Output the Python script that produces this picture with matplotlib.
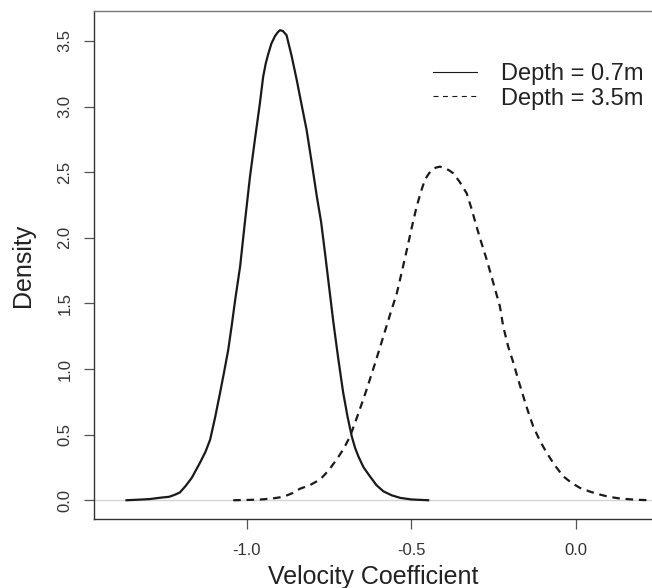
import matplotlib
matplotlib.use("Agg")
import matplotlib.pyplot as plt
from matplotlib.lines import Line2D

plt.rcParams['font.family'] = ['Liberation Sans', 'DejaVu Sans']

# density estimates, depth = 0.7m
shallow_x = [-1.365, -1.330, -1.294, -1.260, -1.236, -1.220, -1.203, -1.185, -1.167,
             -1.155, -1.142, -1.125, -1.111, -1.096, -1.081, -1.068, -1.056, -1.045,
             -1.035, -1.020, -1.005, -0.990, -0.975, -0.960, -0.950, -0.942, -0.934,
             -0.925, -0.914, -0.906, -0.899, -0.890, -0.879, -0.864, -0.848, -0.833,
             -0.818, -0.803, -0.787, -0.774, -0.762, -0.750, -0.737, -0.722, -0.707,
             -0.694, -0.681, -0.671, -0.661, -0.645, -0.626, -0.606, -0.585, -0.560,
             -0.534, -0.500, -0.449]
shallow_y = [0.000, 0.004, 0.009, 0.020, 0.026, 0.040, 0.059, 0.110, 0.170,
             0.225, 0.285, 0.370, 0.462, 0.630, 0.817, 0.985, 1.147, 1.340,
             1.527, 1.781, 2.130, 2.466, 2.750, 3.024, 3.227, 3.330, 3.405,
             3.480, 3.537, 3.565, 3.582, 3.575, 3.544, 3.390, 3.202, 3.010,
             2.821, 2.580, 2.314, 2.120, 1.880, 1.630, 1.360, 1.080, 0.820,
             0.640, 0.487, 0.400, 0.335, 0.250, 0.183, 0.115, 0.068, 0.038,
             0.018, 0.006, 0.000]

# depth = 3.5m
deep_x = [-1.041, -1.000, -0.960, -0.920, -0.889, -0.860, -0.838, -0.808, -0.777,
          -0.752, -0.727, -0.706, -0.686, -0.661, -0.636, -0.610, -0.585, -0.564,
          -0.544, -0.529, -0.514, -0.499, -0.484, -0.471, -0.459, -0.448, -0.438,
          -0.425, -0.413, -0.400, -0.386, -0.373, -0.353, -0.332, -0.317, -0.302,
          -0.287, -0.271, -0.251, -0.231, -0.221, -0.206, -0.190, -0.175, -0.160,
          -0.145, -0.130, -0.110, -0.089, -0.064, -0.039, -0.015, 0.012, 0.043,
          0.073, 0.100, 0.134, 0.180, 0.225]
deep_y = [0.000, 0.002, 0.005, 0.014, 0.026, 0.055, 0.088, 0.115, 0.158,
          0.225, 0.310, 0.390, 0.487, 0.660, 0.842, 1.045, 1.248, 1.420,
          1.578, 1.740, 1.905, 2.075, 2.237, 2.350, 2.441, 2.485, 2.517,
          2.535, 2.542, 2.530, 2.515, 2.492, 2.425, 2.339, 2.220, 2.085,
          1.960, 1.832, 1.655, 1.476, 1.324, 1.172, 1.046, 0.915, 0.791,
          0.672, 0.563, 0.455, 0.361, 0.265, 0.183, 0.135, 0.094, 0.065,
          0.043, 0.026, 0.013, 0.004, 0.000]

x_ticks = [-1.0, -0.5, 0.0]
y_ticks = [0.0, 0.5, 1.0, 1.5, 2.0, 2.5, 3.0, 3.5]
labels = ['Depth = 0.7m', 'Depth = 3.5m']

fig = plt.figure(figsize=(6.52, 5.88), dpi=100)
ax = fig.add_axes([94 / 652, 1 - 519 / 588, 1 - 94 / 652, (519 - 11) / 588])

ax.axhline(0, color='#d4d4d4', lw=1.0, zorder=1)
ax.plot(shallow_x, shallow_y, color='#1a1a1a', lw=1.6, solid_joinstyle='round', zorder=3)
ax.plot(deep_x, deep_y, color='#1a1a1a', lw=1.6, dashes=(3.4, 2.6), zorder=3)

ax.set_xlim(-1.4637, 0.2308)
ax.set_ylim(-0.143, 3.728)

ax.set_xticks(x_ticks)
ax.set_xticklabels([f"{v:.1f}" for v in x_ticks])
ax.set_yticks(y_ticks)
ax.set_yticklabels([f"{v:.1f}" for v in y_ticks], rotation=90, va='center')

ax.tick_params(axis='both', direction='out', length=7.5, width=0.9, color='#555555',
               labelsize=12, labelcolor='#333333')
ax.tick_params(axis='x', pad=10)
ax.tick_params(axis='y', pad=8)

for side in ['left', 'bottom']:
    ax.spines[side].set_color('#333333')
    ax.spines[side].set_linewidth(1.0)
ax.spines['top'].set_color('#777777')
ax.spines['top'].set_linewidth(1.0)
ax.spines['right'].set_visible(False)

ax.set_xlabel('Velocity Coefficient', fontsize=18, color='#222222', va='center')
ax.xaxis.set_label_coords(0.5, -0.114)
ax.set_ylabel('Density', fontsize=18, color='#222222', va='center')
ax.yaxis.set_label_coords(-0.128, 0.5)

# thin legend keys like the R legend
handles = [Line2D([], [], color='#1a1a1a', lw=0.8),
           Line2D([], [], color='#1a1a1a', lw=0.8, dashes=(4.5, 4))]
ax.legend(handles, labels, loc='upper left', bbox_to_anchor=((433 - 94) / 558, 0.898),
          frameon=False, fontsize=17, handlelength=1.85, handletextpad=1.05,
          labelspacing=0.12, borderpad=0, borderaxespad=0, labelcolor='#222222')

fig.savefig('out.png', dpi=100)
